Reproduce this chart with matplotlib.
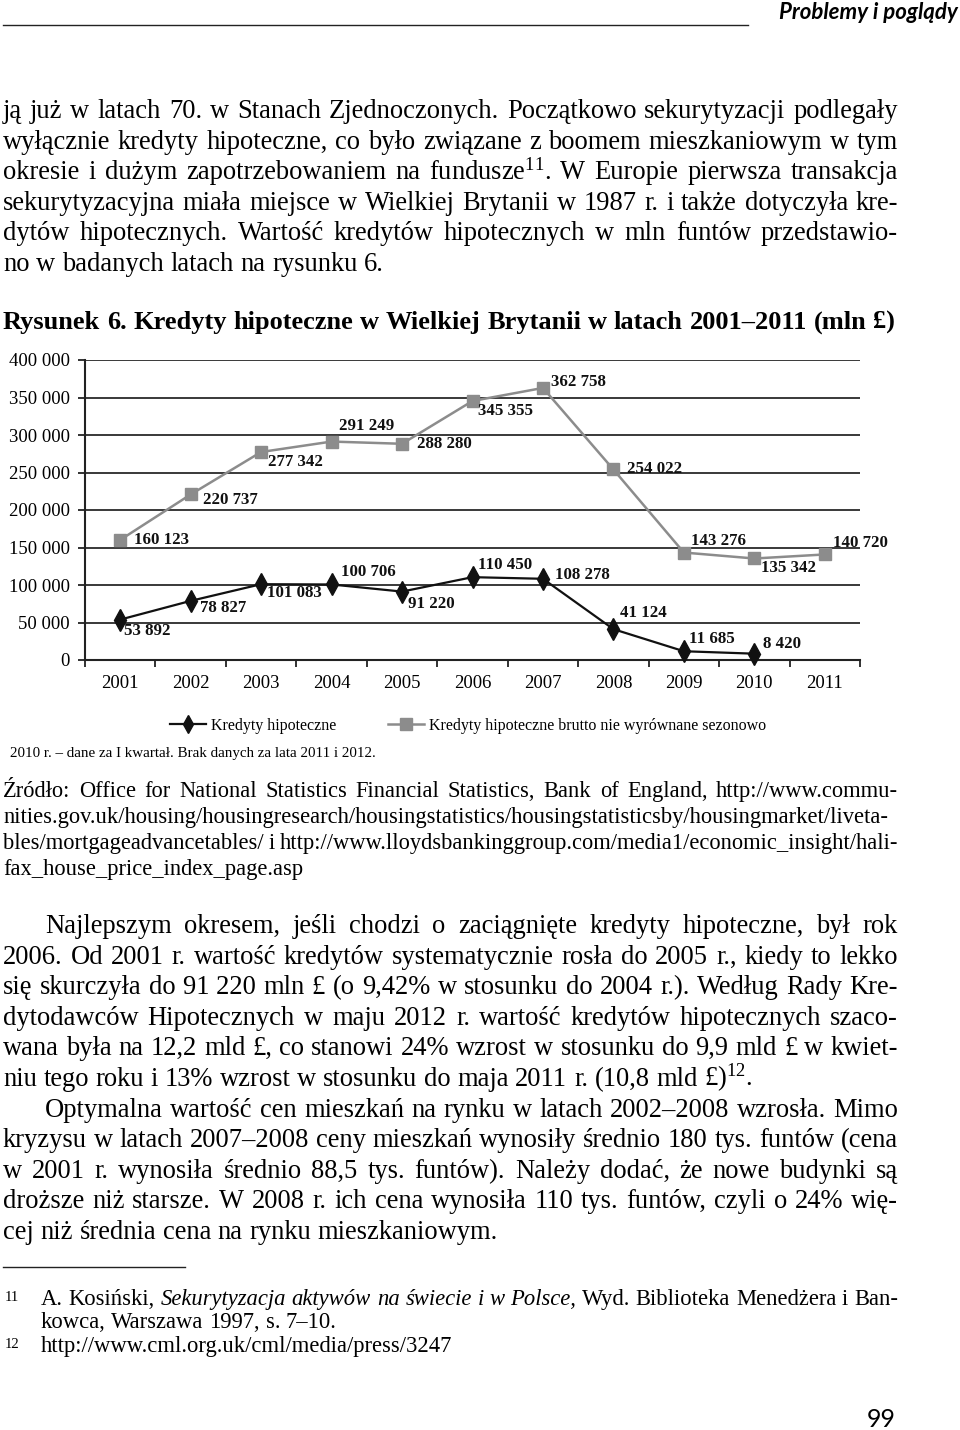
import matplotlib
matplotlib.use('Agg')
import numpy as np
import matplotlib.pyplot as plt
from matplotlib.lines import Line2D

plt.rcParams['font.family'] = 'Liberation Serif'
plt.rcParams['mathtext.fontset'] = 'custom'
plt.rcParams['mathtext.rm'] = 'Liberation Serif'
plt.rcParams['mathtext.it'] = 'Liberation Serif:italic'
plt.rcParams['mathtext.bf'] = 'Liberation Serif:bold'

# chart data (mln GBP)
years = [str(y) for y in range(2001, 2012)]
mortgages = [53892, 78827, 101083, 100706, 91220, 110450, 108278, 41124, 11685, 8420]
gross_nsa = [160123, 220737, 277342, 291249, 288280, 345355, 362758, 254022, 143276, 135342, 140720]
y_ticks = list(range(0, 400001, 50000))
series_names = ['Kredyty hipoteczne', 'Kredyty hipoteczne brutto nie wyrównane sezonowo']

# label offsets in points (dx, dy)
gross_offsets = [(10, 0), (9, -4), (5, -7), (5, 11), (11, 0), (4, -7),
                 (6, 4), (10, 0), (5, 8), (5, -7), (6, 8)]
mort_offsets = [(3, -8), (7, -5), (4, -6.5), (6.5, 9), (4, -9), (4, 9),
                (9, 3), (5, 11.5), (4, 9), (6.5, 7)]

# page text
para1 = [
    'ją już w latach 70. w Stanach Zjednoczonych. Początkowo sekurytyzacji podlegały',
    'wyłącznie kredyty hipoteczne, co było związane z boomem mieszkaniowym w tym',
    'okresie i dużym zapotrzebowaniem na fundusze$^{11}$. W Europie pierwsza transakcja',
    'sekurytyzacyjna miała miejsce w Wielkiej Brytanii w 1987 r. i także dotyczyła kre-',
    'dytów hipotecznych. Wartość kredytów hipotecznych w mln funtów przedstawio-',
    'no w badanych latach na rysunku 6.',
]
title = 'Rysunek 6. Kredyty hipoteczne w Wielkiej Brytanii w latach 2001–2011 (mln £)'
note = '2010 r. – dane za I kwartał. Brak danych za lata 2011 i 2012.'
source = [
    'Źródło: Office for National Statistics Financial Statistics, Bank of England, http://www.commu-',
    'nities.gov.uk/housing/housingresearch/housingstatistics/housingstatisticsby/housingmarket/liveta-',
    'bles/mortgageadvancetables/ i http://www.lloydsbankinggroup.com/media1/economic_insight/hali-',
    'fax_house_price_index_page.asp',
]
para2 = [
    'Najlepszym okresem, jeśli chodzi o zaciągnięte kredyty hipoteczne, był rok',
    '2006. Od 2001 r. wartość kredytów systematycznie rosła do 2005 r., kiedy to lekko',
    'się skurczyła do 91\u00a0220 mln £ (o 9,42% w stosunku do 2004 r.). Według Rady Kre-',
    'dytodawców Hipotecznych w maju 2012 r. wartość kredytów hipotecznych szaco-',
    'wana była na 12,2 mld £, co stanowi 24% wzrost w stosunku do 9,9 mld £ w kwiet-',
    'niu tego roku i 13% wzrost w stosunku do maja 2011 r. (10,8 mld £)$^{12}$.',
    'Optymalna wartość cen mieszkań na rynku w latach 2002–2008 wzrosła. Mimo',
    'kryzysu w latach 2007–2008 ceny mieszkań wynosiły średnio 180 tys. funtów (cena',
    'w 2001 r. wynosiła średnio 88,5 tys. funtów). Należy dodać, że nowe budynki są',
    'droższe niż starsze. W 2008 r. ich cena wynosiła 110 tys. funtów, czyli o 24% wię-',
    'cej niż średnia cena na rynku mieszkaniowym.',
]
footnotes = [
    ('11', 'A. Kosiński, *Sekurytyzacja *aktywów *na *świecie *i *w *Polsce, Wyd. Biblioteka Menedżera i Ban-'),
    ('', 'kowca, Warszawa 1997, s. 7–10.'),
    ('12', 'http://www.cml.org.uk/cml/media/press/3247'),
]

W, H = 960, 1430
fig = plt.figure(figsize=(W / 100, H / 100), dpi=100)
renderer = fig.canvas.get_renderer()


def px(x, y):
    return x / W, 1 - y / H


def make_words(s, size, **kw):
    arts = []
    for w in s.split(' '):
        style = 'normal'
        if w.startswith('*'):
            w, style = w[1:], 'italic'
        arts.append(fig.text(0, 0, w, fontsize=size, style=style, va='baseline', ha='left', **kw))
    return arts


def natural_width(s, size, **kw):
    arts = make_words(s, size, **kw)
    w = sum(a.get_window_extent(renderer).width for a in arts)
    w += (len(arts) - 1) * size * 100 / 72 * 0.25
    for a in arts:
        a.remove()
    return w


def fit_size(lines, **kw):
    # biggest size at which every justified line fits with normal spaces
    return min(10 * (x1 - x0) / natural_width(s, 10, **kw) for s, x0, x1 in lines)


def put_line(s, x0, x1, y, size, justify=True, **kw):
    arts = make_words(s, size, **kw)
    widths = [a.get_window_extent(renderer).width for a in arts]
    if justify and len(arts) > 1:
        gap = (x1 - x0 - sum(widths)) / (len(arts) - 1)
    else:
        gap = size * 100 / 72 * 0.25
    x = x0
    for a, w in zip(arts, widths):
        a.set_position(px(x, y))
        x += w + gap


LEFT, RIGHT = 3, 898
INDENT = 42

# header
fig.add_artist(Line2D([3 / W, 748 / W], [1 - 25 / H] * 2, color='#222222', lw=1.0))
fig.text(*px(958, 19), 'Problemy i poglądy', fontsize=16, family='Lato',
         weight='bold', style='italic', ha='right', va='baseline')

# body paragraphs
body_lines = [(s, LEFT, RIGHT) for s in para1[:-1]]
body_lines += [(para2[0], LEFT + INDENT, RIGHT)] + [(s, LEFT, RIGHT) for s in para2[1:5]]
body_lines += [(para2[6], LEFT + INDENT, RIGHT)] + [(s, LEFT, RIGHT) for s in para2[7:10]]
body_size = fit_size(body_lines)

for i, s in enumerate(para1):
    put_line(s, LEFT, RIGHT, 118 + i * 30.6, body_size, justify=i < len(para1) - 1)

p2_x = [LEFT + INDENT] + [LEFT] * 5 + [LEFT + INDENT] + [LEFT] * 4
p2_just = [True] * 5 + [False] + [True] * 4 + [False]
for i, s in enumerate(para2):
    put_line(s, p2_x[i], RIGHT, 933 + i * 30.6, body_size, justify=p2_just[i])

# figure title
title_size = fit_size([(title, LEFT, 895)], weight='bold')
put_line(title, LEFT, 895, 329, title_size, weight='bold')

# chart
ax = fig.add_axes([85 / W, 1 - 660 / H, 775 / W, 300 / H])
xc = np.arange(len(years)) + 0.5
ax.plot(xc, gross_nsa, color='#8c8c8c', lw=1.8, marker='s', ms=9, zorder=3, clip_on=False)
ax.plot(xc[:len(mortgages)], mortgages, color='#111111', lw=1.6, marker='d', ms=11,
        zorder=4, clip_on=False)

for xi, v, (dx, dy) in zip(xc, gross_nsa, gross_offsets):
    ax.annotate(f'{v:,}'.replace(',', ' '), (xi, v), xytext=(dx, dy), textcoords='offset points',
                ha='left', va='center', fontsize=12.2, fontweight='bold', color='#111111', zorder=5)
for xi, v, (dx, dy) in zip(xc, mortgages, mort_offsets):
    ax.annotate(f'{v:,}'.replace(',', ' '), (xi, v), xytext=(dx, dy), textcoords='offset points',
                ha='left', va='center', fontsize=12.2, fontweight='bold', color='#111111', zorder=5)

ax.set_xlim(0, len(years))
ax.set_ylim(0, 400000)
ax.set_yticks(y_ticks)
ax.set_yticklabels([f'{v:,}'.replace(',', ' ') for v in y_ticks], fontsize=13.5)
ax.set_xticks(range(len(years) + 1))
ax.set_xticklabels([])
ax.set_xticks(xc, minor=True)
ax.set_xticklabels(years, minor=True, fontsize=13.5)
ax.tick_params(axis='x', which='minor', length=0, pad=11)
ax.tick_params(axis='x', which='major', length=5, width=1.3, direction='out', color='#222222')
ax.tick_params(axis='y', length=5, width=1.3, pad=6, color='#222222')
ax.yaxis.grid(True, color='#2a2a2a', lw=1.3)
ax.set_axisbelow(True)
for side in ['top', 'right']:
    ax.spines[side].set_visible(False)
for side in ['left', 'bottom']:
    ax.spines[side].set_linewidth(1.5)
    ax.spines[side].set_color('#222222')

handles = [Line2D([], [], color='#111111', lw=1.6, marker='d', ms=9),
           Line2D([], [], color='#8c8c8c', lw=1.8, marker='s', ms=8)]
fig.legend(handles, series_names, loc='center', bbox_to_anchor=px(468, 726), ncol=2,
           frameon=False, fontsize=11.5, handlelength=2.3, columnspacing=3.2, handletextpad=0.3)

fig.text(*px(10, 757), note, fontsize=10.8, va='baseline', ha='left')

# source
src_lines = [(source[0], LEFT, RIGHT), (source[1], LEFT, RIGHT), (source[2], LEFT, RIGHT)]
src_size = fit_size(src_lines)
for i, s in enumerate(source):
    put_line(s, LEFT, RIGHT, 797 + i * 26, src_size, justify=i < len(source) - 1)

# footnotes
fig.add_artist(Line2D([3 / W, 185 / W], [1 - 1267 / H] * 2, color='#222222', lw=1.0))
fn_size = fit_size([(footnotes[0][1], 41, RIGHT)])
for i, (num, s) in enumerate(footnotes):
    y = 1305 + i * 23.5
    if num:
        fig.text(*px(5, y - 4), num, fontsize=fn_size * 0.65, va='baseline', ha='left')
    put_line(s, 41, RIGHT, y, fn_size, justify=i == 0)

fig.text(*px(896, 1427), '99', fontsize=18, family='Lato', ha='right', va='baseline')

fig.savefig('out.png', dpi=100, facecolor='white')
